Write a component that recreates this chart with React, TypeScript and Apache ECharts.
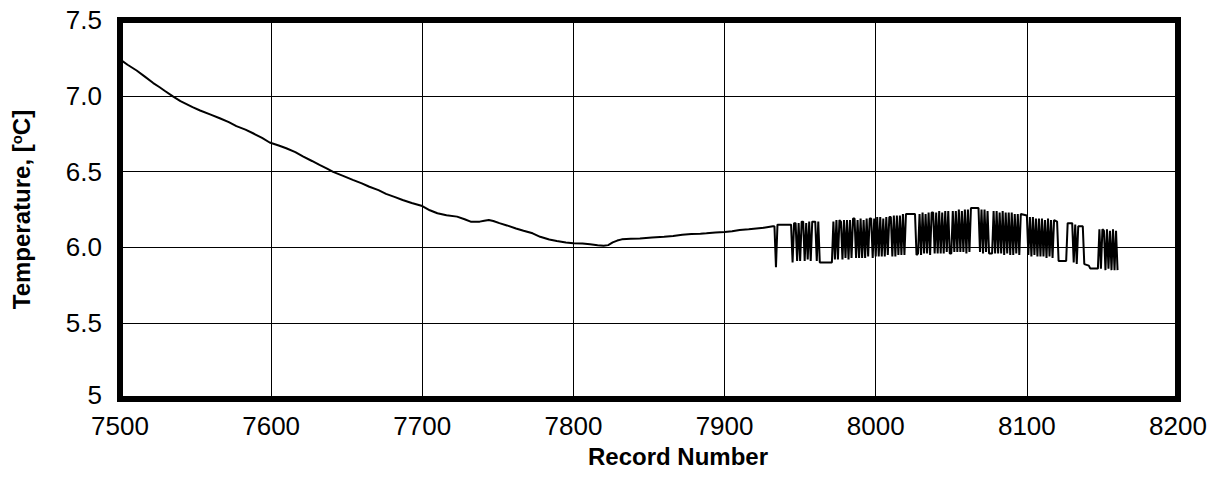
import React, { useEffect, useRef } from "react";
import * as echarts from "echarts";

// Record number ticks and temperature ticks
const xTicks = [7500, 7600, 7700, 7800, 7900, 8000, 8100, 8200];
const yTicks = [5, 5.5, 6.0, 6.5, 7.0, 7.5];

// Smooth cooling section (record, temperature °C)
const coolingSection: [number, number][] = [
  [7500, 7.24], [7505, 7.205], [7511, 7.167], [7516, 7.13], [7522, 7.084], [7526, 7.058],
  [7530, 7.03], [7535, 6.996], [7540, 6.965], [7544, 6.945], [7548, 6.925], [7553, 6.903],
  [7560, 6.876], [7566, 6.852], [7572, 6.826], [7577, 6.8], [7583, 6.777], [7588, 6.753],
  [7594, 6.722], [7599, 6.692], [7605, 6.672], [7610, 6.654], [7616, 6.628], [7621, 6.6],
  [7627, 6.57], [7632, 6.544], [7637, 6.52], [7641, 6.498], [7648, 6.47], [7654, 6.445],
  [7660, 6.422], [7665, 6.4], [7671, 6.378], [7676, 6.353], [7682, 6.332], [7687, 6.313],
  [7693, 6.293], [7700, 6.273], [7705, 6.245], [7710, 6.225], [7716, 6.212], [7723, 6.203],
  [7728, 6.186], [7732, 6.17], [7738, 6.17], [7741, 6.176], [7744, 6.181], [7747, 6.174],
  [7751, 6.16], [7756, 6.145], [7762, 6.125], [7767, 6.11], [7773, 6.093], [7778, 6.07],
  [7784, 6.052], [7789, 6.042], [7795, 6.032], [7800, 6.027], [7806, 6.026], [7811, 6.021],
  [7816, 6.014], [7820, 6.011], [7823, 6.015], [7826, 6.033], [7829, 6.045], [7832, 6.053],
  [7838, 6.057], [7844, 6.059], [7852, 6.066], [7860, 6.071], [7866, 6.075], [7872, 6.083],
  [7878, 6.088], [7884, 6.09], [7888, 6.093], [7894, 6.098], [7900, 6.102], [7905, 6.106],
  [7910, 6.115], [7916, 6.12], [7921, 6.125], [7926, 6.13], [7932, 6.139],
];

// Toggling section (record, temperature °C)
const togglingSection: [number, number][] = [
  [7933, 6.14], [7934, 5.87], [7935, 6.15], [7944, 6.15],
  [7945, 5.9], [7946, 6.16], [7947, 6.16], [7948, 5.91], [7949, 6.16], [7950, 5.91],
  [7951, 6.17], [7952, 6.17], [7953, 5.91], [7954, 6.16], [7955, 5.92], [7956, 6.17],
  [7957, 5.91], [7958, 6.17], [7960, 6.17], [7961, 5.91], [7962, 6.17], [7963, 5.9], [7971, 5.9],
  [7972, 6.17], [7973, 5.92], [7974, 6.18], [7975, 5.92], [7976, 6.18], [7977, 6.17],
  [7978, 5.92], [7979, 6.18], [7980, 5.93], [7981, 6.18], [7982, 5.92], [7983, 6.18],
  [7984, 5.93], [7985, 6.19], [7986, 6.19], [7987, 5.93], [7988, 6.18], [7989, 5.93],
  [7990, 6.19], [7991, 5.93], [7992, 6.18], [7993, 5.93], [7994, 6.19], [7995, 5.94],
  [7996, 6.19], [7997, 6.19], [7998, 5.93], [7999, 6.19], [8000, 5.94], [8001, 6.2],
  [8002, 5.94], [8003, 6.2], [8004, 5.94], [8005, 6.19], [8006, 5.94], [8007, 6.2],
  [8008, 5.95], [8009, 6.2], [8010, 6.2], [8011, 5.94], [8012, 6.21], [8013, 5.94],
  [8014, 6.21], [8015, 5.95], [8016, 6.21], [8017, 5.95], [8018, 6.22], [8019, 5.95],
  [8020, 6.22], [8026, 6.22], [8027, 5.95], [8028, 5.96], [8029, 6.22], [8030, 5.95],
  [8031, 6.23], [8032, 5.96], [8033, 6.22], [8034, 5.96], [8035, 6.23], [8036, 5.95],
  [8037, 6.23], [8038, 6.23], [8039, 5.96], [8040, 6.23], [8041, 5.96], [8042, 6.24],
  [8043, 5.96], [8044, 6.23], [8045, 5.96], [8046, 6.24], [8047, 5.97], [8048, 6.24],
  [8049, 5.96], [8050, 5.96], [8051, 6.24], [8052, 5.97], [8053, 6.24], [8054, 5.97],
  [8055, 6.25], [8056, 5.97], [8057, 6.24], [8058, 5.97], [8059, 6.25], [8060, 5.96],
  [8061, 6.25], [8062, 5.97], [8063, 6.26], [8068, 6.26], [8069, 5.97], [8070, 6.25],
  [8071, 5.96], [8072, 6.25], [8073, 5.97], [8074, 6.24], [8075, 5.96], [8077, 5.96],
  [8078, 6.24], [8079, 5.96], [8080, 6.24], [8081, 5.96], [8082, 6.23], [8083, 5.96],
  [8084, 6.24], [8085, 5.95], [8086, 6.23], [8087, 5.96], [8088, 6.23], [8089, 5.95],
  [8090, 6.23], [8091, 5.95], [8092, 6.22], [8093, 5.96], [8094, 6.22], [8095, 5.95],
  [8096, 6.22], [8100, 6.21], [8101, 5.95], [8102, 6.2], [8103, 5.94], [8104, 6.2],
  [8105, 5.95], [8106, 6.19], [8107, 5.94], [8108, 6.19], [8109, 5.94], [8110, 6.19],
  [8111, 5.94], [8112, 6.18], [8113, 5.93], [8114, 6.19], [8115, 5.94], [8116, 6.18],
  [8117, 5.93], [8118, 6.18], [8120, 6.17], [8121, 5.91], [8126, 5.91], [8127, 6.16],
  [8130, 6.16], [8131, 5.9], [8132, 6.15], [8133, 5.89], [8134, 6.14], [8137, 6.14],
  [8138, 5.89], [8141, 5.88], [8142, 5.86], [8147, 5.86], [8148, 6.12], [8149, 5.86],
  [8150, 6.12], [8151, 6.11], [8152, 5.85], [8153, 6.12], [8154, 5.86], [8155, 6.11],
  [8156, 5.85], [8157, 6.12], [8158, 5.85], [8159, 6.11], [8160, 5.85],
];

const FONT = "'Liberation Sans', Arial, sans-serif";

export default function App() {
  const ref = useRef<HTMLDivElement>(null);

  useEffect(() => {
    if (!ref.current) return;
    const chart = echarts.init(ref.current, undefined, { renderer: "svg" });
    const allData = [...coolingSection, ...togglingSection];
    chart.setOption({
      animation: false,
      backgroundColor: "#fff",
      grid: {
        show: true,
        left: 120,
        top: 20,
        right: 43,
        bottom: 87,
        borderWidth: 6,
        borderColor: "#000",
        backgroundColor: "transparent",
      },
      xAxis: {
        type: "value",
        min: xTicks[0],
        max: xTicks[xTicks.length - 1],
        interval: 100,
        name: "Record Number",
        nameLocation: "middle",
        nameGap: 45,
        nameTextStyle: {
          fontFamily: FONT,
          fontWeight: "bold",
          fontSize: 24,
          color: "#000",
          padding: [0, 0, 0, 58],
        },
        axisLine: { show: false },
        axisTick: { show: false },
        axisLabel: {
          fontFamily: FONT,
          fontSize: 26,
          lineHeight: 22,
          color: "#000",
          margin: 16,
          formatter: (v: number) => String(v),
        },
        splitLine: { show: true, lineStyle: { color: "#000", width: 1 } },
      },
      yAxis: {
        type: "value",
        min: yTicks[0],
        max: yTicks[yTicks.length - 1],
        interval: 0.5,
        name: "{b|Temperature, [}{s|o}{b|C]}",
        nameLocation: "middle",
        nameGap: 87,
        nameRotate: 90,
        nameTextStyle: {
          color: "#000",
          rich: {
            b: { fontFamily: FONT, fontWeight: "bold", fontSize: 24, color: "#000" },
            s: {
              fontFamily: FONT,
              fontWeight: "bold",
              fontSize: 15,
              color: "#000",
              verticalAlign: "top",
              padding: [0, 0, 8, 0],
            },
          },
        },
        axisLine: { show: false },
        axisTick: { show: false },
        axisLabel: {
          fontFamily: FONT,
          fontSize: 26,
          lineHeight: 20,
          color: "#000",
          margin: 18,
          formatter: (v: number) => (v === 5 ? "{low|5}" : v.toFixed(1)),
          rich: {
            low: {
              fontFamily: FONT,
              fontSize: 26,
              lineHeight: 20,
              color: "#000",
              padding: [0, 0, 8, 0],
            },
          },
        },
        splitLine: { show: true, lineStyle: { color: "#000", width: 1 } },
      },
      series: [
        {
          type: "line",
          data: allData,
          showSymbol: false,
          symbol: "none",
          lineStyle: { color: "#000", width: 2 },
          z: 3,
        },
      ],
    });
    return () => chart.dispose();
  }, []);

  return (
    <div
      ref={ref}
      style={{ position: "fixed", left: 0, top: 0, width: 1221, height: 486, background: "#fff" }}
    />
  );
}
